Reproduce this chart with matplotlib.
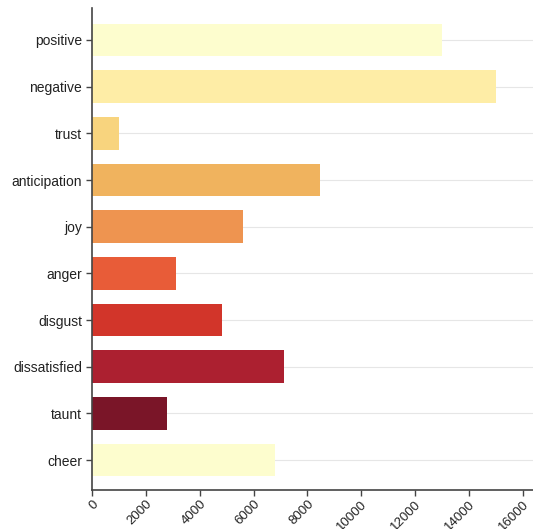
import matplotlib
matplotlib.use("Agg")
import matplotlib.pyplot as plt

categories = ["positive", "negative", "trust", "anticipation", "joy",
              "anger", "disgust", "dissatisfied", "taunt", "cheer"]
values = [13000, 15000, 1000, 8470, 5600, 3120, 4840, 7120, 2800, 6800]
colors = ["#fdfdce", "#feeda6", "#f8d47e", "#f0b35e", "#ee9450",
          "#e85c38", "#d2352a", "#ac2030", "#7a1528", "#fdfdce"]
xticks = [0, 2000, 4000, 6000, 8000, 10000, 12000, 14000, 16000]

plt.rcParams['font.family'] = ['Liberation Sans', 'DejaVu Sans']

fig = plt.figure(figsize=(5.33, 5.29), dpi=100)
ax = fig.add_axes([0.1726, 0.0728, 0.8274, 0.9112])

ypos = list(range(len(categories)))
ax.barh(ypos, values, height=0.7, color=colors, zorder=2)

ax.set_yticks(ypos)
ax.set_yticklabels(categories, fontsize=10, color="#222222")
ax.set_ylim(len(categories) - 1 + 0.65, -0.675)
ax.set_xlim(0, 16380)
ax.set_xticks(xticks)
ax.set_xticklabels([str(v) for v in xticks], rotation=45, ha="right",
                   rotation_mode="anchor", fontsize=9.5, color="#222222")

ax.grid(axis="y", color="#e6e6e6", linewidth=0.8, zorder=0)
ax.grid(axis="x", visible=False)
for s in ["top", "right"]:
    ax.spines[s].set_visible(False)
for s in ["left", "bottom"]:
    ax.spines[s].set_color("#444444")
    ax.spines[s].set_linewidth(1.2)
ax.tick_params(axis="y", length=4, width=1, color="#444444", pad=3)
ax.tick_params(axis="x", length=4, width=1, color="#444444", pad=1.5)

fig.savefig("out.png", dpi=100)
